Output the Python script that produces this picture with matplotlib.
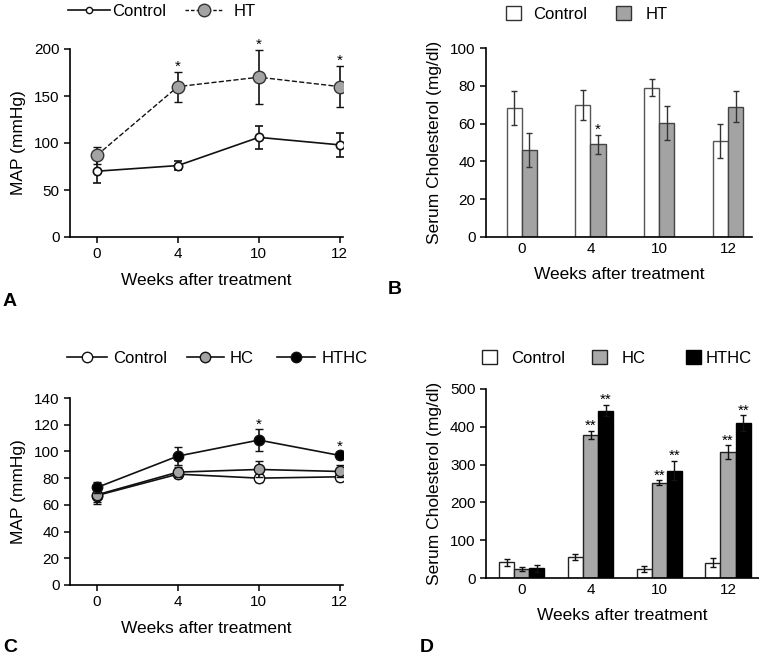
import matplotlib.pyplot as plt
from matplotlib.lines import Line2D
from matplotlib.patches import Patch
import numpy as np

plt.rcParams['font.family'] = ['Liberation Sans', 'DejaVu Sans']

weeks = ['0', '4', '10', '12']

# panel A - MAP, Control vs HT
a_control = [70, 76, 106, 98]
a_control_err = [13, 5, 12.5, 12.7]
a_ht = [87, 160, 170, 160]
a_ht_err = [9, 16, 29, 22]
a_stars = ['', '*', '*', '*']

# panel B - serum cholesterol, Control vs HT
b_control = [68.5, 70, 79, 51]
b_control_err = [9, 8, 4.5, 9]
b_ht = [45.8, 49, 60.5, 69]
b_ht_err = [9, 5, 9, 8]
b_stars = ['', '*', '', '']

# panel C - MAP, Control / HC / HTHC
c_control = [67, 83, 80, 81]
c_control_err = [6, 3, 3, 3]
c_hc = [67.5, 84.5, 86.5, 85]
c_hc_err = [5, 4, 6, 4.5]
c_hthc = [73, 96.5, 108.5, 97]
c_hthc_err = [4, 7, 8, 2.5]
c_stars = ['', '', '*', '*']

# panel D - serum cholesterol, Control / HC / HTHC
d_control = [42, 55, 24, 40]
d_control_err = [9, 8, 8, 12]
d_hc = [24, 378, 252, 333]
d_hc_err = [5, 11, 6, 18]
d_hthc = [25.5, 443, 284, 410]
d_hthc_err = [10, 15, 26, 20]
d_stars_hc = ['', '**', '**', '**']
d_stars_hthc = ['', '**', '**', '**']

W, H = 759, 657
fig = plt.figure(figsize=(W / 100, H / 100), dpi=100)


def box(l, t, r, b):
    return [l / W, 1 - b / H, (r - l) / W, (b - t) / H]


def style(ax):
    ax.spines['top'].set_visible(False)
    ax.spines['right'].set_visible(False)
    for s in ['left', 'bottom']:
        ax.spines[s].set_linewidth(1.2)
    ax.tick_params(labelsize=11, width=1.1, length=4, direction='out')
    ax.set_xticks(range(4))
    ax.set_xticklabels(weeks)
    ax.set_xlabel('Weeks after treatment', fontsize=12.5, labelpad=8)


def key(handle, label, px, py, hl, pad):
    # one legend entry, handle starting at pixel px, centred on py
    fig.legend([handle], [label], loc='center left', bbox_to_anchor=(px / W, 1 - py / H),
               frameon=False, fontsize=12, handlelength=hl, handleheight=0.9,
               handletextpad=pad, borderpad=0, borderaxespad=0)


def stars(ax, xs, tops, labels):
    for xi, t, s in zip(xs, tops, labels):
        if s:
            ax.annotate(s, (xi, t), xytext=(0, -1.5), textcoords='offset points',
                        ha='center', va='bottom', fontsize=11)


x = np.arange(4)
grey = '#a3a3a3'

# ---------- A ----------
axA = fig.add_axes(box(70, 49, 343, 237))
axA.errorbar(x, a_control, yerr=a_control_err, color='#111111', lw=1.2, marker='o', ms=6,
             mfc='white', mec='#111111', mew=1.2, capsize=3, elinewidth=1.2, capthick=1.2, zorder=3)
axA.errorbar(x, a_ht, yerr=a_ht_err, color='#111111', lw=1.0, ls='--', marker='o', ms=9,
             mfc=grey, mec='#333333', mew=1.0, capsize=3, elinewidth=1.2, capthick=1.2, zorder=4)
stars(axA, x, np.add(a_ht, a_ht_err), a_stars)
axA.set_xlim(-0.333, 3.04)
axA.set_ylim(0, 200)
axA.set_yticks([0, 50, 100, 150, 200])
axA.set_ylabel('MAP (mmHg)', fontsize=12.5, labelpad=6)
style(axA)
key(Line2D([], [], color='#111111', lw=1.2, marker='o', ms=4.5, mfc='white', mec='#111111'),
    'Control', 68, 11, 2.5, 0.15)
key(Line2D([], [], color='#111111', lw=1.0, ls=(0, (2.5, 1.5)), marker='o', ms=9, mfc=grey,
           mec='#333333'), 'HT', 185, 11, 2.3, 0.6)

# ---------- B ----------
axB = fig.add_axes(box(486, 48, 752, 237))
bw = 0.22
eb = dict(ecolor='#333333', capsize=2, elinewidth=1.0, capthick=1.0)
axB.bar(x - bw / 2, b_control, bw, yerr=b_control_err, color='white', edgecolor='#555555',
        lw=1.0, error_kw=eb)
axB.bar(x + bw / 2, b_ht, bw, yerr=b_ht_err, color=grey, edgecolor='#444444', lw=1.0, error_kw=eb)
stars(axB, x + bw / 2, np.add(b_ht, b_ht_err), b_stars)
axB.set_xlim(-0.52, 3.35)
axB.set_ylim(0, 100)
axB.set_yticks([0, 20, 40, 60, 80, 100])
axB.set_ylabel('Serum Cholesterol (mg/dl)', fontsize=12.5, labelpad=6)
style(axB)
axB.tick_params(axis='x', length=0)
key(Patch(facecolor='white', edgecolor='#333333'), 'Control', 506, 14, 0.9, 0.75)
key(Patch(facecolor=grey, edgecolor='#333333'), 'HT', 616, 14, 0.9, 0.9)

# ---------- C ----------
axC = fig.add_axes(box(70, 398, 343, 585))
ckw = dict(color='#111111', lw=1.2, marker='o', ms=7.5, mew=1.0, mec='#111111', capsize=3,
           elinewidth=1.2, capthick=1.2)
axC.errorbar(x, c_control, yerr=c_control_err, mfc='white', zorder=3, **ckw)
axC.errorbar(x, c_hc, yerr=c_hc_err, mfc=grey, zorder=4, **ckw)
axC.errorbar(x, c_hthc, yerr=c_hthc_err, mfc='black', zorder=5, **ckw)
stars(axC, x, np.add(c_hthc, c_hthc_err), c_stars)
axC.set_xlim(-0.333, 3.04)
axC.set_ylim(0, 140)
axC.set_yticks(range(0, 141, 20))
axC.set_ylabel('MAP (mmHg)', fontsize=12.5, labelpad=6)
style(axC)
for c, lab, px, hl in [('white', 'Control', 67, 2.4), (grey, 'HC', 187, 2.2), ('black', 'HTHC', 277, 2.3)]:
    key(Line2D([], [], color='#111111', lw=1.2, marker='o', ms=7.5, mfc=c, mec='#111111'),
        lab, px, 358, hl, 0.35)

# ---------- D ----------
axD = fig.add_axes(box(486, 389, 759, 578))
dw = 0.22
ekw = dict(ecolor='#111111', capsize=2, elinewidth=1.0, capthick=1.0)
axD.bar(x - dw, d_control, dw, yerr=d_control_err, color='white', edgecolor='#222222', lw=1.0,
        error_kw=ekw)
axD.bar(x, d_hc, dw, yerr=d_hc_err, color='#a8a8a8', edgecolor='#222222', lw=1.0, error_kw=ekw)
axD.bar(x + dw, d_hthc, dw, yerr=d_hthc_err, color='black', edgecolor='black', lw=1.0,
        error_kw=ekw)
stars(axD, x, np.add(d_hc, d_hc_err), d_stars_hc)
stars(axD, x + dw, np.add(d_hthc, d_hthc_err), d_stars_hthc)
axD.set_xlim(-0.52, 3.45)
axD.set_ylim(0, 500)
axD.set_yticks(range(0, 501, 100))
axD.set_ylabel('Serum Cholesterol (mg/dl)', fontsize=12.5, labelpad=6)
style(axD)
axD.tick_params(axis='x', length=0)
key(Patch(facecolor='white', edgecolor='#222222'), 'Control', 482, 358, 0.9, 0.85)
key(Patch(facecolor='#a8a8a8', edgecolor='#222222'), 'HC', 592, 358, 0.9, 0.85)
key(Patch(facecolor='black', edgecolor='black'), 'HTHC', 686, 358, 0.9, 0.3)

# panel letters
for lab, px, py in [('A', 10, 302), ('B', 395, 290), ('C', 10, 647), ('D', 427, 647)]:
    fig.text(px / W, 1 - py / H, lab, fontsize=14, fontweight='bold', ha='center', va='center')

fig.savefig('out.png', dpi=100)
